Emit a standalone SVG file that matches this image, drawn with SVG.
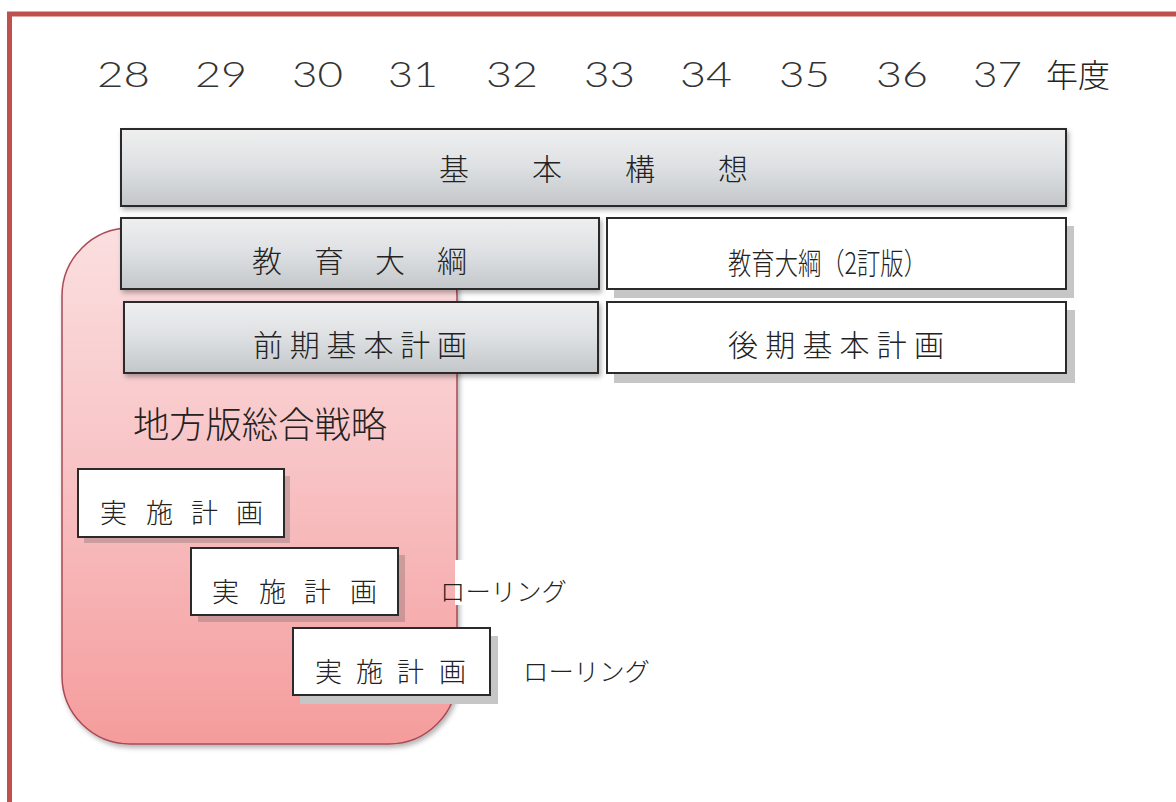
<svg xmlns="http://www.w3.org/2000/svg" width="1176" height="802" viewBox="0 0 1176 802">
<defs>
<linearGradient id="gray" x1="0" y1="0" x2="0" y2="1">
<stop offset="0" stop-color="#efefef"/>
<stop offset="0.5" stop-color="#dde0e3"/>
<stop offset="1" stop-color="#c4c7ca"/>
</linearGradient>
<linearGradient id="pink" x1="0" y1="0" x2="0" y2="1">
<stop offset="0" stop-color="#fbdfe0"/>
<stop offset="0.45" stop-color="#f8c4c6"/>
<stop offset="1" stop-color="#f59c9c"/>
</linearGradient>
<filter id="soft" x="-5%" y="-10%" width="110%" height="130%">
<feDropShadow dx="2" dy="3" stdDeviation="2.5" flood-color="#000" flood-opacity="0.3"/>
</filter>
</defs>
<style>
text{font-family:"Noto Sans CJK JP","Noto Sans",sans-serif;fill:#222;font-weight:300}
.gbox{fill:url(#gray);stroke:#2a2a2a;stroke-width:2}
.wbox{fill:#fff;stroke:#2a2a2a;stroke-width:2}
.sh{fill:#c6c6c6}
.psh{fill:#7a6a6a;opacity:0.35}
.yr{font-size:36px;font-family:"Lato","Noto Sans CJK JP",sans-serif;font-weight:300;fill:#333}
</style>
<rect width="1176" height="802" fill="#fff"/>
<g id="frame">
<line x1="7" y1="14" x2="1176" y2="14" stroke="#c0504d" stroke-width="5"/>
<line x1="9.5" y1="12" x2="9.5" y2="802" stroke="#c0504d" stroke-width="5"/>
</g>
<g id="years">
<text class="yr" x="97" y="87" textLength="53" lengthAdjust="spacingAndGlyphs">28</text>
<text class="yr" x="195" y="87" textLength="52" lengthAdjust="spacingAndGlyphs">29</text>
<text class="yr" x="292" y="87" textLength="51" lengthAdjust="spacingAndGlyphs">30</text>
<text class="yr" x="388" y="87" textLength="50" lengthAdjust="spacingAndGlyphs">31</text>
<text class="yr" x="486" y="87" textLength="52" lengthAdjust="spacingAndGlyphs">32</text>
<text class="yr" x="584" y="87" textLength="51" lengthAdjust="spacingAndGlyphs">33</text>
<text class="yr" x="680" y="87" textLength="52" lengthAdjust="spacingAndGlyphs">34</text>
<text class="yr" x="779" y="87" textLength="51" lengthAdjust="spacingAndGlyphs">35</text>
<text class="yr" x="876" y="87" textLength="52" lengthAdjust="spacingAndGlyphs">36</text>
<text class="yr" x="973" y="87" textLength="49" lengthAdjust="spacingAndGlyphs">37</text>
<text x="1046" y="87" font-size="32">年度</text>
</g>
<g id="chiho">
<rect x="62" y="228" width="395" height="516" rx="68" fill="url(#pink)" stroke="#a84a55" stroke-width="1.5" filter="url(#soft)"/>
<text x="133" y="438" font-size="36" textLength="254" lengthAdjust="spacingAndGlyphs">地方版総合戦略</text>
</g>
<g id="kihon-koso">
<rect class="gbox" x="121" y="129" width="945" height="77" filter="url(#soft)"/>
<text font-size="30" x="439 532 625 718" y="180">基本構想</text>
</g>
<g id="kyoiku-taiko">
<rect class="gbox" x="121" y="218" width="478" height="71" filter="url(#soft)"/>
<text font-size="30" x="252 314 375 437" y="272">教育大綱</text>
</g>
<g id="kyoiku-taiko-2">
<rect class="sh" x="614" y="226" width="460" height="72"/>
<rect class="wbox" x="607" y="218" width="459" height="71"/>
<text font-size="30" x="728" y="274" textLength="199" lengthAdjust="spacingAndGlyphs">教育大綱（2訂版）</text>
</g>
<g id="zenki">
<rect class="gbox" x="124" y="302" width="474" height="71" filter="url(#soft)"/>
<text font-size="30" x="253" y="356" textLength="214" lengthAdjust="spacing">前期基本計画</text>
</g>
<g id="koki">
<rect class="sh" x="614" y="310" width="461" height="73"/>
<rect class="wbox" x="607" y="302" width="459" height="71"/>
<text font-size="30" x="728" y="356" textLength="216" lengthAdjust="spacing">後期基本計画</text>
</g>
<g id="jisshi-1">
<rect class="psh" x="84" y="476" width="206" height="67"/>
<rect class="wbox" x="78" y="469" width="206" height="68"/>
<text font-size="27" x="100 146 191 236" y="523">実施計画</text>
</g>
<g id="rolling-1">
<rect x="455" y="560" width="120" height="45" fill="#fff"/>
<text font-size="25" x="440" y="601" textLength="127" lengthAdjust="spacingAndGlyphs">ローリング</text>
</g>
<g id="jisshi-2">
<rect class="psh" x="198" y="555" width="207" height="67"/>
<rect class="wbox" x="191" y="548" width="207" height="67"/>
<text font-size="27" x="212 259 304 350" y="602">実施計画</text>
</g>
<g id="jisshi-3">
<rect class="sh" x="300" y="636" width="198" height="68"/>
<rect class="wbox" x="293" y="628" width="197" height="67"/>
<text font-size="27" x="315 356 397 439" y="682">実施計画</text>
</g>
<g id="rolling-2">
<text font-size="25" x="523" y="681" textLength="127" lengthAdjust="spacingAndGlyphs">ローリング</text>
</g>
<g id="connectors"></g>
</svg>
